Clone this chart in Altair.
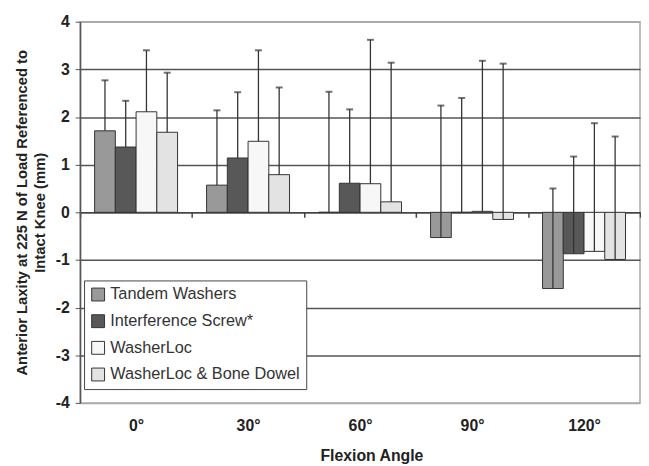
import altair as alt
import pandas as pd

angles = ["0°", "30°", "60°", "90°", "120°"]
series = ["Tandem Washers", "Interference Screw*", "WasherLoc", "WasherLoc & Bone Dowel"]
colors = ["#999999", "#585858", "#f7f7f7", "#e3e3e3"]

# mean values per series (one per angle)
tw_vals = [1.71, 0.57, 0.0, -0.53, -1.60]
is_vals = [1.37, 1.14, 0.61, 0.0, -0.87]
wl_vals = [2.11, 1.49, 0.60, 0.02, -0.82]
wd_vals = [1.68, 0.79, 0.22, -0.15, -0.99]
# top of error bars
tw_top = [2.77, 2.14, 2.53, 2.24, 0.50]
is_top = [2.34, 2.52, 2.16, 2.40, 1.17]
wl_top = [3.40, 3.40, 3.62, 3.18, 1.87]
wd_top = [2.93, 2.62, 3.14, 3.12, 1.59]

rows = []
for s, vals, tops in zip(series, [tw_vals, is_vals, wl_vals, wd_vals], [tw_top, is_top, wl_top, wd_top]):
    for a, v, t in zip(angles, vals, tops):
        rows.append({"angle": a, "series": s, "value": v, "top": t})
df = pd.DataFrame(rows)

FONT = "Liberation Sans"
xscale = alt.Scale(domain=angles, paddingInner=0, paddingOuter=0)
xoff = alt.XOffset("series:N", sort=series, scale=alt.Scale(domain=series, paddingInner=0, paddingOuter=0.7))
yscale = alt.Scale(domain=[-4, 4], nice=False)

x_axis = alt.X("angle:N", sort=angles, scale=xscale,
               axis=alt.Axis(title="Flexion Angle", labelAngle=0, orient="bottom", offset=-193,
                             tickBand="extent", tickSize=5, tickColor="#444", tickWidth=1.5,
                             domainColor="#444", domainWidth=1.5,
                             labelFontSize=16, labelFontWeight="bold", labelColor="#222",
                             labelPadding=203, titleFontSize=16, titleFontWeight="bold",
                             titleColor="#222", titlePadding=38, titleX=295, grid=False))

bars = alt.Chart(df).mark_bar(stroke="#333333", strokeWidth=1).encode(
    x=x_axis,
    xOffset=xoff,
    y=alt.Y("value:Q", scale=yscale,
            axis=alt.Axis(title=["Anterior Laxity at 225 N of Load Referenced to", "Intact Knee (mm)"],
                          values=[-4, -3, -2, -1, 0, 1, 2, 3, 4],
                          labelExpr="'' + datum.value",
                          labelFontSize=16, labelFontWeight="bold", labelColor="#222",
                          labelPadding=6, tickSize=5, tickColor="#555", domainColor="#555",
                          domainWidth=1.5,
                          grid=True,
                          gridColor={"condition": {"test": "abs(datum.value) == 4", "value": "#aaaaaa"},
                                     "value": "#555555"},
                          gridWidth=1.5,
                          titleFontSize=15, titleFontWeight="bold", titleColor="#222",
                          titleLineHeight=18, titlePadding=8)),
    color=alt.Color("series:N", sort=series, scale=alt.Scale(domain=series, range=colors),
                    legend=alt.Legend(title=None, orient="none", legendX=4, legendY=262,
                                      fillColor="white", strokeColor="#444444", padding=6,
                                      labelFontSize=16.5, labelColor="#333", labelFont=FONT,
                                      symbolType="square", symbolSize=170,
                                      symbolStrokeColor="#333333", symbolStrokeWidth=1,
                                      rowPadding=9, labelOffset=4, labelLimit=400)),
)

rules = alt.Chart(df).mark_rule(color="#333333", strokeWidth=1.3).encode(
    x=alt.X("angle:N", sort=angles, scale=xscale),
    xOffset=xoff,
    y=alt.Y("value:Q", scale=yscale),
    y2="top:Q",
)

caps = alt.Chart(df).mark_tick(color="#333333", size=7, thickness=2).encode(
    x=alt.X("angle:N", sort=angles, scale=xscale),
    xOffset=xoff,
    y=alt.Y("top:Q", scale=yscale),
)

chart = alt.layer(bars, rules, caps).properties(
    width=567, height=386,
    autosize=alt.AutoSizeParams(type="none"),
    padding={"left": 73, "top": 11, "right": 1, "bottom": 60},
).configure(font=FONT).configure_view(stroke="#aaaaaa", strokeWidth=1.5)

chart.save("out.html", embed_options={"renderer": "svg", "actions": False})
